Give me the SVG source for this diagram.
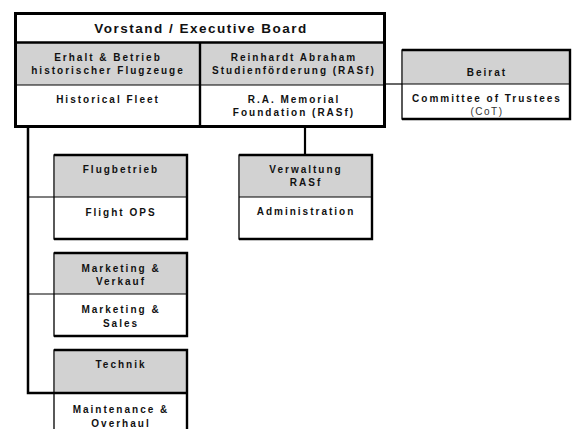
<svg xmlns="http://www.w3.org/2000/svg" width="572" height="429" viewBox="0 0 572 429">
<style>
text{font-family:"Liberation Sans",Arial,sans-serif;font-weight:bold;font-size:10px;letter-spacing:2px;text-anchor:middle;fill:#111}
.title{font-size:13.5px;letter-spacing:1.5px}
.thin{font-weight:normal;letter-spacing:1.5px;fill:#333}
.grey{fill:#d2d2d2}
.box{fill:#fff;stroke:#000;stroke-width:1.3}
.shade{fill:none;stroke:#000;stroke-width:2.4}
.sep{stroke:#000;stroke-width:1}
.con{fill:none;stroke:#000}
</style>
<g id="connectors">
<path class="con" stroke-width="2.5" d="M28 127V393H54"/>
<path class="con" stroke-width="1.2" d="M28 197H54M28 294H54"/>
<path class="con" stroke-width="2.2" d="M305 127V155"/>
<path class="con" stroke="#666" stroke-width="1.2" d="M384 84H402"/>
</g>
<g id="board">
<rect x="15.5" y="13.5" width="369" height="113" fill="#fff"/>
<rect x="16" y="43" width="368" height="42" class="grey"/>
<line x1="15.5" y1="85" x2="384.5" y2="85" class="sep"/>
<line x1="15.5" y1="42.5" x2="384.5" y2="42.5" stroke="#000" stroke-width="2.6"/>
<line x1="200" y1="42" x2="200" y2="127" stroke="#000" stroke-width="2.4"/>
<rect x="15.5" y="13.5" width="369" height="113" fill="none" stroke="#000" stroke-width="3"/>
<text class="title" x="201" y="33">Vorstand / Executive Board</text>
<text x="108" y="61">Erhalt &amp; Betrieb</text>
<text x="108" y="74">historischer Flugzeuge</text>
<text x="108" y="103">Historical Fleet</text>
<text x="294" y="61">Reinhardt Abraham</text>
<text x="294" y="74">Studienförderung (RASf)</text>
<text x="294" y="103">R.A. Memorial</text>
<text x="294" y="116">Foundation (RASf)</text>
</g>
<g id="beirat">
<rect x="402" y="50" width="168" height="69" class="box"/>
<rect x="403" y="51" width="167" height="33" class="grey"/>
<line x1="402" y1="84" x2="570" y2="84" class="sep"/>
<path class="shade" d="M402 50H570V119H402"/>
<text x="487" y="76">Beirat</text>
<text x="487" y="102">Committee of Trustees</text>
<text class="thin" x="487" y="115">(CoT)</text>
</g>
<g id="flugbetrieb">
<rect x="54" y="155" width="133" height="84" class="box"/>
<rect x="55" y="156" width="132" height="41" class="grey"/>
<line x1="54" y1="197" x2="187" y2="197" class="sep"/>
<path class="shade" d="M54 155H187V239H54"/>
<text x="121" y="173">Flugbetrieb</text>
<text x="121" y="216">Flight OPS</text>
</g>
<g id="verwaltung">
<rect x="239" y="155" width="133" height="84" class="box"/>
<rect x="240" y="156" width="132" height="41" class="grey"/>
<line x1="239" y1="197" x2="372" y2="197" class="sep"/>
<path class="shade" d="M239 155H372V239H239"/>
<text x="306" y="173">Verwaltung</text>
<text x="306" y="186">RASf</text>
<text x="306" y="215">Administration</text>
</g>
<g id="marketing">
<rect x="54" y="253" width="133" height="83" class="box"/>
<rect x="55" y="254" width="132" height="40" class="grey"/>
<line x1="54" y1="294" x2="187" y2="294" class="sep"/>
<path class="shade" d="M54 253H187V336H54"/>
<text x="121" y="272">Marketing &amp;</text>
<text x="121" y="285">Verkauf</text>
<text x="121" y="313">Marketing &amp;</text>
<text x="121" y="327">Sales</text>
</g>
<g id="technik">
<rect x="54" y="350" width="133" height="90" class="box"/>
<rect x="55" y="351" width="132" height="42" class="grey"/>
<line x1="54" y1="393" x2="187" y2="393" stroke="#000" stroke-width="2.4"/>
<path class="shade" d="M54 350H187V440"/>
<text x="121" y="368">Technik</text>
<text x="121" y="413">Maintenance &amp;</text>
<text x="121" y="427">Overhaul</text>
</g>
</svg>
